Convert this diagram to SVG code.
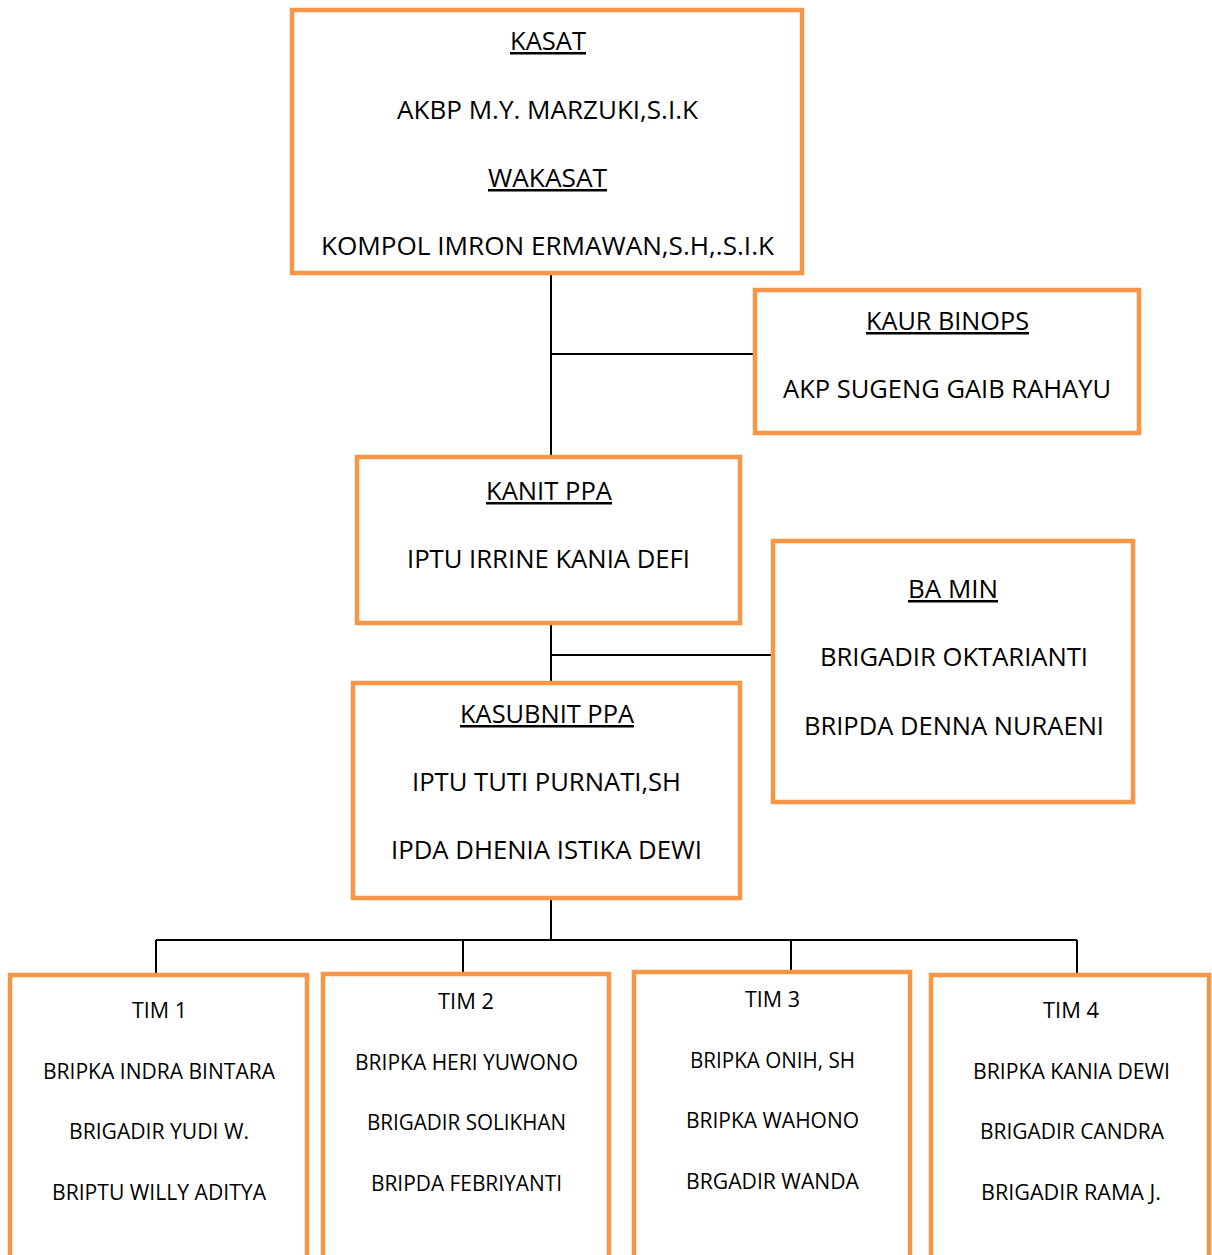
<svg xmlns="http://www.w3.org/2000/svg" width="1212" height="1255" viewBox="0 0 1212 1255">
<style>
.box{fill:#ffffff;stroke:#F79646;stroke-width:4.5}
.t{font-family:"Open Sans","Noto Sans","Liberation Sans",sans-serif;font-size:25px;fill:#000;text-anchor:middle}
.s{font-family:"Open Sans","Noto Sans","Liberation Sans",sans-serif;font-size:22px;fill:#000;text-anchor:middle}
.u{text-decoration:underline}
.c{stroke:#000;stroke-width:2;fill:none}
</style>
<rect width="1212" height="1255" fill="#ffffff"/>
<g id="connectors">
<path class="c" d="M551,273 V456 M551,354 H755"/>
<path class="c" d="M551,623 V683 M551,655 H773"/>
<path class="c" d="M551,898 V940 M156,940 H1077 M156,940 V974 M463,940 V972 M791,940 V971 M1077,940 V974"/>
</g>
<g id="kasat">
<rect class="box" x="292" y="10" width="510" height="263"/>
<text class="t u" x="548" y="50" textLength="76" lengthAdjust="spacingAndGlyphs">KASAT</text>
<text class="t" x="547.5" y="119" textLength="301" lengthAdjust="spacingAndGlyphs">AKBP M.Y. MARZUKI,S.I.K</text>
<text class="t u" x="547.5" y="187" textLength="119" lengthAdjust="spacingAndGlyphs">WAKASAT</text>
<text class="t" x="547.5" y="255" textLength="453" lengthAdjust="spacingAndGlyphs">KOMPOL IMRON ERMAWAN,S.H,.S.I.K</text>
</g>
<g id="kaur-binops">
<rect class="box" x="755" y="290" width="384" height="143"/>
<text class="t u" x="947.5" y="330" textLength="163" lengthAdjust="spacingAndGlyphs">KAUR BINOPS</text>
<text class="t" x="947" y="398" textLength="328" lengthAdjust="spacingAndGlyphs">AKP SUGENG GAIB RAHAYU</text>
</g>
<g id="kanit-ppa">
<rect class="box" x="357" y="457" width="383" height="166"/>
<text class="t u" x="549" y="500" textLength="126" lengthAdjust="spacingAndGlyphs">KANIT PPA</text>
<text class="t" x="548.5" y="568" textLength="283" lengthAdjust="spacingAndGlyphs">IPTU IRRINE KANIA DEFI</text>
</g>
<g id="ba-min">
<rect class="box" x="773" y="541" width="360" height="261"/>
<text class="t u" x="953" y="598" textLength="90" lengthAdjust="spacingAndGlyphs">BA MIN</text>
<text class="t" x="954" y="666" textLength="268" lengthAdjust="spacingAndGlyphs">BRIGADIR OKTARIANTI</text>
<text class="t" x="954" y="735" textLength="300" lengthAdjust="spacingAndGlyphs">BRIPDA DENNA NURAENI</text>
</g>
<g id="kasubnit-ppa">
<rect class="box" x="353" y="683" width="387" height="215"/>
<text class="t u" x="547" y="723" textLength="174" lengthAdjust="spacingAndGlyphs">KASUBNIT PPA</text>
<text class="t" x="546.5" y="791" textLength="269" lengthAdjust="spacingAndGlyphs">IPTU TUTI PURNATI,SH</text>
<text class="t" x="546.5" y="859" textLength="311" lengthAdjust="spacingAndGlyphs">IPDA DHENIA ISTIKA DEWI</text>
</g>
<g id="tim1">
<rect class="box" x="10" y="975" width="297" height="300"/>
<text class="s" x="159.5" y="1018" textLength="55" lengthAdjust="spacingAndGlyphs">TIM 1</text>
<text class="s" x="159" y="1079" textLength="232" lengthAdjust="spacingAndGlyphs">BRIPKA INDRA BINTARA</text>
<text class="s" x="159" y="1139" textLength="180" lengthAdjust="spacingAndGlyphs">BRIGADIR YUDI W.</text>
<text class="s" x="159" y="1200" textLength="214" lengthAdjust="spacingAndGlyphs">BRIPTU WILLY ADITYA</text>
</g>
<g id="tim2">
<rect class="box" x="323" y="974" width="286" height="300"/>
<text class="s" x="466" y="1009" textLength="56" lengthAdjust="spacingAndGlyphs">TIM 2</text>
<text class="s" x="466.5" y="1070" textLength="223" lengthAdjust="spacingAndGlyphs">BRIPKA HERI YUWONO</text>
<text class="s" x="466.5" y="1130" textLength="199" lengthAdjust="spacingAndGlyphs">BRIGADIR SOLIKHAN</text>
<text class="s" x="466.5" y="1191" textLength="191" lengthAdjust="spacingAndGlyphs">BRIPDA FEBRIYANTI</text>
</g>
<g id="tim3">
<rect class="box" x="634" y="972" width="276" height="300"/>
<text class="s" x="772.5" y="1007" textLength="55" lengthAdjust="spacingAndGlyphs">TIM 3</text>
<text class="s" x="772.5" y="1068" textLength="165" lengthAdjust="spacingAndGlyphs">BRIPKA ONIH, SH</text>
<text class="s" x="772.5" y="1128" textLength="173" lengthAdjust="spacingAndGlyphs">BRIPKA WAHONO</text>
<text class="s" x="772.5" y="1189" textLength="173" lengthAdjust="spacingAndGlyphs">BRGADIR WANDA</text>
</g>
<g id="tim4">
<rect class="box" x="931" y="975" width="278" height="300"/>
<text class="s" x="1071" y="1018" textLength="56" lengthAdjust="spacingAndGlyphs">TIM 4</text>
<text class="s" x="1071.5" y="1079" textLength="197" lengthAdjust="spacingAndGlyphs">BRIPKA KANIA DEWI</text>
<text class="s" x="1072" y="1139" textLength="184" lengthAdjust="spacingAndGlyphs">BRIGADIR CANDRA</text>
<text class="s" x="1071" y="1200" textLength="180" lengthAdjust="spacingAndGlyphs">BRIGADIR RAMA J.</text>
</g>
</svg>
